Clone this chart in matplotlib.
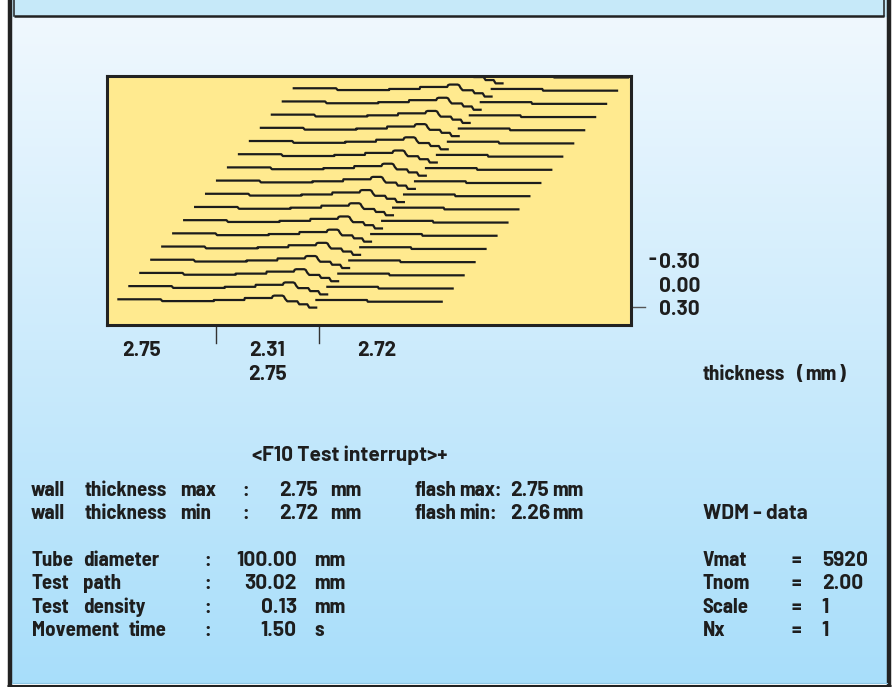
import numpy as np
import matplotlib.pyplot as plt

# one wall-thickness scan (position, deviation) - every scan has the same shape
scan_pos = [0, 43.4, 45, 96.5, 96.5, 127, 127.5, 154.5, 155.5, 157, 165, 166.5, 168, 170,
            180, 182, 190, 192, 200, np.nan, 198, 249.6, 250.5, 325.5]
scan_dev = [0, 0, -1.8, -1.8, -0.7, -0.7, 1.3, 1.3, 3.2, 3.7, 3.7, 3.0, 0.3, -2,
            -2, -5, -5, -8.3, -8.3, np.nan, -0.7, -0.7, -2.4, -2.4]
n_scans = 18

x_labels = ['2.75', '2.31', '2.72']
x_labels2 = ['', '2.75', '']
y_labels = ['-0.30', '0.00', '0.30']
axis_title = ['thickness', '(', 'mm', ')']

interrupt_text = '<F10 Test interrupt>+'
wall_kind = ['max', 'min']
wall_value = ['2.75', '2.72']
flash_kind = ['max:', 'min:']
flash_value = ['2.75', '2.26']

param_names = [['Tube', 'diameter'], ['Test', 'path'], ['Test', 'density'], ['Movement', 'time']]
param_values = ['100.00', '30.02', '0.13', '1.50']
param_units = ['mm', 'mm', 'mm', 's']

wdm_title = 'WDM - data'
wdm_names = ['Vmat', 'Tnom', 'Scale', 'Nx']
wdm_values = ['5920', '2.00', '1', '1']

# figure in pixel units
W, H = 894, 687
fig = plt.figure(figsize=(W / 100, H / 100), dpi=100)
bg = fig.add_axes([0, 0, 1, 1])

# background gradient + top strip
grad = np.linspace(0, 1, 256)[:, None, None]
top_c = np.array([240, 248, 254]) / 255
bot_c = np.array([168, 222, 250]) / 255
bg.imshow(top_c + (bot_c - top_c) * grad, extent=(12, 887, 684, 17), aspect='auto', zorder=0)
bg.add_patch(plt.Rectangle((12, 0), 875, 16, color='#C6E9F9', zorder=0))
bg.set_xlim(0, W)
bg.set_ylim(H, 0)
bg.axis('off')

# frame
fc = '#222222'
bg.plot([9.5, 9.5], [0, H], color=fc, lw=3.2, solid_capstyle='butt')
bg.plot([889, 889], [0, H], color=fc, lw=3.2, solid_capstyle='butt')
bg.plot([7, 891], [685.5, 685.5], color=fc, lw=2.2, solid_capstyle='butt')
bg.plot([14, 884], [16, 16], color=fc, lw=1.8, solid_capstyle='butt')
bg.plot([14, 14], [0, 16], color=fc, lw=1.1)
bg.plot([884, 884], [0, 16], color=fc, lw=1.1)
bg.plot([12, 887], [683, 683], color='#8CC6E4', lw=0.8)

# tick marks around the scan panel
bg.plot([216, 216], [326, 343], color='#333333', lw=1.0)
bg.plot([319, 319], [326, 343], color='#333333', lw=1.0)
bg.plot([631, 645], [306.7, 306.7], color='#555555', lw=1.0)

# scan panel (waterfall)
ax = fig.add_axes([107 / W, 1 - 325 / H, 524 / W, 249 / H])
ax.set_facecolor('#FFEA8F')
for i in range(n_scans):
    ax.plot(np.array(scan_pos) + 10.3 + i * 10.96,
            np.array(scan_dev) + 25.7 + i * 13.19,
            color='#1C1C1C', lw=1.6, solid_capstyle='butt')
ax.set_xlim(0, 524)
ax.set_ylim(0, 249)
ax.set_xticks([])
ax.set_yticks([])
for s in ax.spines.values():
    s.set_linewidth(2.2)
    s.set_color(fc)

# text: numbers in Barlow, words in the narrower cut
font = dict(fontweight='bold', fontsize=15, color='#1E1E1E', va='baseline')
wide = ['Barlow', 'Barlow Semi Condensed', 'DejaVu Sans']
narrow = ['Barlow Semi Condensed', 'Barlow', 'DejaVu Sans']


def txt(x, y, s, **kw):
    fam = wide if any(c.isdigit() for c in s) or s == wdm_title else narrow
    bg.text(x, y, s, **{**font, 'family': fam, **kw})


for cx, s1, s2 in zip([141.3, 267.5, 376.3], x_labels, x_labels2):
    txt(cx, 356.5, s1, ha='center')
    if s2:
        txt(cx, 379.5, s2, ha='center')

for yb, s in zip([268.3, 291.7, 315], y_labels):
    if s.startswith('-'):
        txt(656, yb - 3, '-', ha='right')
        s = s[1:]
    txt(659.5, yb, s)

for x, s in zip([703, 797, 805, 839], axis_title):
    txt(x, 380, s)

txt(252.5, 461, interrupt_text)
for yb, k, v, fk, fv in zip([495.5, 519], wall_kind, wall_value, flash_kind, flash_value):
    txt(30.6, yb, 'wall')
    txt(84.2, yb, 'thickness')
    txt(180.6, yb, k)
    txt(242, yb, ':')
    txt(279.4, yb, v)
    txt(330, yb, 'mm')
    txt(414.5, yb, 'flash')
    txt(459, yb, fk)
    txt(510, yb, fv)
    txt(552.5, yb, 'mm')

txt(702.7, 519.3, wdm_title)

rows_y = [566, 589.3, 612.6, 635.9]
for yb, nm, v, u in zip(rows_y, param_names, param_values, param_units):
    txt(31.7, yb, nm[0])
    txt(83.3 if nm[0] != 'Movement' else 128.3, yb, nm[1])
    txt(204, yb, ':')
    txt(296.7, yb, v, ha='right')
    txt(314, yb, u)

for yb, nm, v in zip(rows_y, wdm_names, wdm_values):
    txt(702.7, yb, nm)
    txt(791.7, yb, '=')
    txt(821.7, yb, v)

fig.savefig('out.png', dpi=100)
